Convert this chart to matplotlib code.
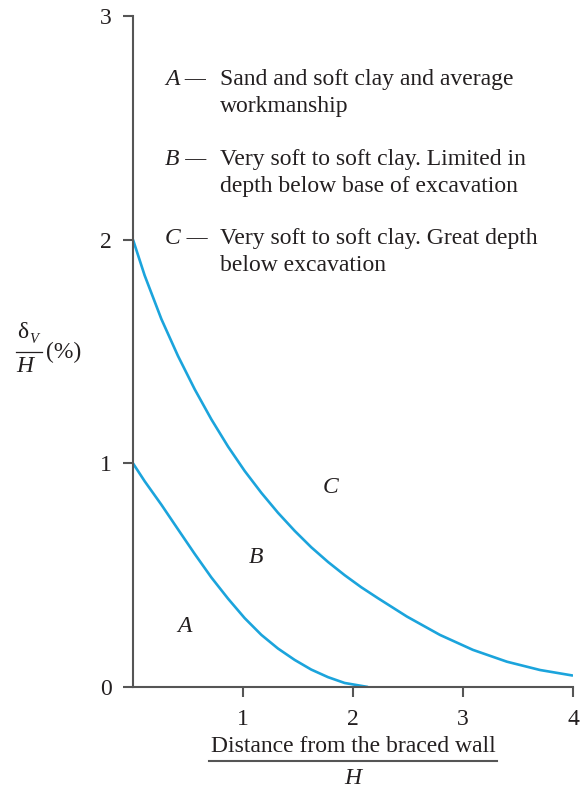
import numpy as np
import matplotlib.pyplot as plt
from matplotlib.lines import Line2D

# curve C (upper) and curve B/A boundary (lower)
x_upper = [0.0, 0.106, 0.258, 0.409, 0.561, 0.712, 0.864, 1.015, 1.167, 1.318, 1.47,
           1.62, 1.773, 1.924, 2.075, 2.227, 2.49, 2.79, 3.09, 3.40, 3.70, 4.0]
y_upper = [2.0, 1.84, 1.645, 1.48, 1.331, 1.197, 1.075, 0.966, 0.868, 0.779, 0.698,
           0.625, 0.559, 0.50, 0.446, 0.397, 0.315, 0.233, 0.166, 0.113, 0.076, 0.051]
x_lower = [0.0, 0.106, 0.258, 0.409, 0.561, 0.712, 0.864, 1.015, 1.167, 1.318, 1.47,
           1.62, 1.773, 1.924, 2.136]
y_lower = [1.0, 0.92, 0.815, 0.705, 0.595, 0.49, 0.395, 0.308, 0.233, 0.172, 0.121,
           0.078, 0.044, 0.018, 0.0]

x_ticks = [1, 2, 3, 4]
y_ticks = [0, 1, 2, 3]

zone_labels = ["A", "B", "C"]
zone_x = [0.47, 1.12, 1.80]
zone_y = [0.27, 0.58, 0.89]

legend_keys = ["A \u2014", "B \u2014", "C \u2014"]
legend_lines = [["Sand and soft clay and average", "workmanship"],
                ["Very soft to soft clay. Limited in", "depth below base of excavation"],
                ["Very soft to soft clay. Great depth", "below excavation"]]

W, H = 580, 790
blue = "#1ba4dc"
axc = "#555555"
txt = "#231f20"
serif = "Liberation Serif"
fs = 17


def fx(px):
    return px / W


def fy(py):
    return 1 - py / H


fig = plt.figure(figsize=(5.8, 7.9), dpi=100)
ax = fig.add_axes([fx(133), fy(687), fx(573) - fx(133), fy(16) - fy(687)])

ax.plot(x_upper, y_upper, color=blue, lw=1.9, solid_capstyle="butt", solid_joinstyle="round")
ax.plot(x_lower, y_lower, color=blue, lw=1.9, solid_capstyle="butt", solid_joinstyle="round")

ax.set_xlim(0, 4)
ax.set_ylim(0, 3)
ax.set_xticks(x_ticks)
ax.set_yticks(y_ticks)
ax.spines["top"].set_visible(False)
ax.spines["right"].set_visible(False)
for s in ["left", "bottom"]:
    ax.spines[s].set_color(axc)
    ax.spines[s].set_linewidth(1.5)
ax.tick_params(direction="out", length=7.5, width=1.5, color=axc,
               labelcolor=txt, labelsize=fs, pad=8)
for lab in ax.get_xticklabels() + ax.get_yticklabels():
    lab.set_fontfamily(serif)

for lab, x, y in zip(zone_labels, zone_x, zone_y):
    ax.text(x, y, lab, fontfamily=serif, fontstyle="italic", fontsize=fs,
            color=txt, ha="center", va="center")

# description block, baselines in pixels
key_base = [85, 165, 244]
for k, lines, b in zip(legend_keys, legend_lines, key_base):
    fig.text(fx(165), fy(b), k, fontfamily=serif, fontstyle="italic", fontsize=fs,
             color=txt, ha="left", va="baseline")
    for i, line in enumerate(lines):
        fig.text(fx(220), fy(b + 27 * i), line, fontfamily=serif, fontsize=fs,
                 color=txt, ha="left", va="baseline")

# y label: delta_V / H (%)
fig.text(fx(23), fy(332), "\u03b4", fontfamily=serif, fontsize=fs, color=txt,
         ha="center", va="center")
fig.text(fx(34), fy(339), "V", fontfamily=serif, fontstyle="italic", fontsize=10.5,
         color=txt, ha="center", va="center")
fig.add_artist(Line2D([fx(16), fx(42)], [fy(352), fy(352)], color=txt, lw=0.9))
fig.text(fx(25), fy(366), "H", fontfamily=serif, fontstyle="italic", fontsize=fs,
         color=txt, ha="center", va="center")
fig.text(fx(64), fy(352), "(%)", fontfamily=serif, fontsize=fs, color=txt,
         ha="center", va="center")

# x label: distance / H
fig.text(fx(353), fy(746), "Distance from the braced wall", fontfamily=serif,
         fontsize=fs, color=txt, ha="center", va="center")
fig.add_artist(Line2D([fx(209), fx(497)], [fy(761), fy(761)], color=axc, lw=1.5))
fig.text(fx(353), fy(778), "H", fontfamily=serif, fontstyle="italic", fontsize=fs,
         color=txt, ha="center", va="center")

fig.savefig("out.png", dpi=100)
